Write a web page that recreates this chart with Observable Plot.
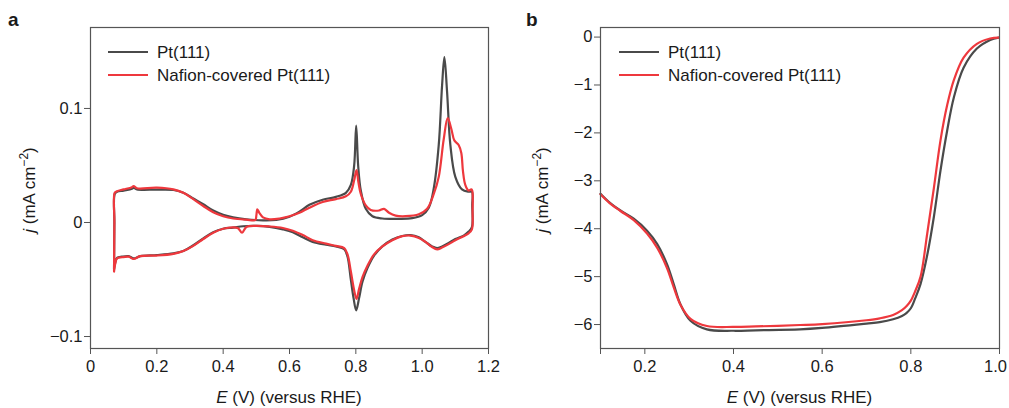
<!DOCTYPE html>
<html>
<head>
<meta charset="utf-8">
<script src="https://cdn.jsdelivr.net/npm/d3@7"></script>
<script src="https://cdn.jsdelivr.net/npm/@observablehq/plot@0.6"></script>
<style>
  html, body { margin: 0; padding: 0; background: #fff; }
  #wrap { position: relative; width: 1009px; height: 408px; overflow: hidden; font-family: "Liberation Sans", Arial, sans-serif; }
  #wrap svg.plot-svg { position: absolute; top: 0; }
  #overlay { position: absolute; left: 0; top: 0; pointer-events: none; }
</style>
</head>
<body>
<div id="wrap"></div>
<script>
// ---------- Panel a: cyclic voltammograms ----------
const aPtE = [0.071,0.072,0.073,0.08,0.10,0.125,0.13,0.14,0.20,0.25,0.28,0.31,0.34,0.37,0.40,0.43,0.47,0.52,0.56,0.60,0.63,0.66,0.70,0.74,0.77,0.785,0.795,0.801,0.807,0.815,0.83,0.85,0.88,0.93,0.97,1.00,1.02,1.035,1.05,1.06,1.067,1.075,1.085,1.10,1.12,1.14,1.15,1.151,1.15,
  1.14,1.125,1.10,1.08,1.06,1.045,1.03,1.01,0.99,0.965,0.94,0.91,0.88,0.855,0.835,0.82,0.81,0.801,0.793,0.784,0.775,0.765,0.74,0.71,0.67,0.64,0.61,0.58,0.54,0.50,0.46,0.43,0.40,0.37,0.34,0.31,0.28,0.25,0.20,0.15,0.13,0.115,0.095,0.08,0.074,0.071];
const aPtJ = [-0.041,0.0,0.025,0.027,0.028,0.0295,0.0305,0.029,0.0288,0.0285,0.026,0.021,0.016,0.0105,0.0068,0.0045,0.0028,0.0018,0.0022,0.005,0.0095,0.0155,0.020,0.0225,0.026,0.033,0.05,0.085,0.05,0.028,0.012,0.0055,0.0035,0.0032,0.0038,0.0065,0.013,0.03,0.068,0.12,0.145,0.115,0.068,0.04,0.029,0.027,0.027,0.015,-0.004,
  -0.008,-0.0115,-0.0145,-0.018,-0.021,-0.0225,-0.021,-0.017,-0.013,-0.011,-0.0118,-0.015,-0.021,-0.029,-0.04,-0.052,-0.066,-0.077,-0.066,-0.048,-0.03,-0.0235,-0.021,-0.0195,-0.017,-0.013,-0.0085,-0.006,-0.0038,-0.003,-0.0033,-0.0045,-0.0055,-0.0085,-0.014,-0.020,-0.025,-0.027,-0.0285,-0.0295,-0.0315,-0.0295,-0.030,-0.031,-0.036,-0.041];
const aNafE = [0.071,0.072,0.073,0.08,0.10,0.125,0.13,0.14,0.20,0.25,0.28,0.31,0.34,0.37,0.40,0.43,0.47,0.497,0.500,0.503,0.51,0.52,0.54,0.57,0.60,0.63,0.66,0.70,0.74,0.77,0.785,0.795,0.802,0.808,0.815,0.83,0.845,0.87,0.885,0.90,0.92,0.95,0.99,1.015,1.035,1.05,1.065,1.077,1.088,1.097,1.11,1.118,1.123,1.13,1.14,1.148,1.151,1.152,1.15,
  1.14,1.125,1.10,1.08,1.06,1.045,1.03,1.01,0.99,0.965,0.94,0.91,0.88,0.855,0.835,0.82,0.81,0.802,0.794,0.785,0.775,0.765,0.74,0.71,0.67,0.64,0.61,0.58,0.54,0.50,0.47,0.457,0.445,0.43,0.40,0.37,0.34,0.31,0.28,0.25,0.20,0.15,0.13,0.115,0.095,0.08,0.074,0.071];
const aNafJ = [-0.043,0.0,0.026,0.0275,0.029,0.031,0.032,0.030,0.0305,0.029,0.026,0.0205,0.0145,0.009,0.0055,0.0035,0.0025,0.0022,0.006,0.0115,0.008,0.0045,0.0028,0.0035,0.0055,0.0085,0.013,0.018,0.0205,0.023,0.027,0.037,0.046,0.035,0.025,0.015,0.011,0.0105,0.012,0.0085,0.006,0.0055,0.0072,0.012,0.025,0.04,0.073,0.0915,0.082,0.072,0.068,0.061,0.045,0.033,0.028,0.029,0.028,0.01,-0.006,
  -0.0095,-0.012,-0.0155,-0.019,-0.022,-0.0235,-0.0215,-0.017,-0.0135,-0.0115,-0.012,-0.0155,-0.021,-0.028,-0.038,-0.048,-0.058,-0.067,-0.058,-0.043,-0.028,-0.0225,-0.0205,-0.0185,-0.0155,-0.011,-0.0072,-0.0048,-0.0035,-0.003,-0.004,-0.009,-0.005,-0.0042,-0.0055,-0.009,-0.0145,-0.0205,-0.025,-0.0275,-0.029,-0.0295,-0.032,-0.030,-0.0305,-0.0315,-0.037,-0.043];
const aXTicks = [0, 0.2, 0.4, 0.6, 0.8, 1.0, 1.2];
const aXTickLabels = ["0", "0.2", "0.4", "0.6", "0.8", "1.0", "1.2"];
const aYTicks = [-0.1, 0, 0.1];
const aYTickLabels = ["\u22120.1", "0", "0.1"];

// ---------- Panel b: polarization curves ----------
const bE = [0.1,0.12,0.145,0.175,0.205,0.228,0.25,0.265,0.28,0.303,0.34,0.40,0.45,0.55,0.6,0.7,0.73,0.76,0.78,0.79,0.8,0.81,0.822,0.837,0.852,0.867,0.882,0.897,0.919,0.949,0.979,0.998];
const bPtJ = [-3.27,-3.45,-3.62,-3.79,-4.04,-4.32,-4.74,-5.15,-5.57,-5.92,-6.10,-6.13,-6.12,-6.10,-6.07,-5.98,-5.95,-5.89,-5.82,-5.76,-5.66,-5.45,-5.15,-4.55,-3.75,-2.78,-1.95,-1.26,-0.64,-0.24,-0.06,-0.01];
const bNafJ = [-3.28,-3.46,-3.63,-3.82,-4.10,-4.40,-4.82,-5.22,-5.58,-5.88,-6.03,-6.05,-6.04,-6.01,-5.99,-5.91,-5.87,-5.80,-5.70,-5.62,-5.50,-5.30,-5.00,-4.10,-3.15,-2.15,-1.42,-0.90,-0.43,-0.14,-0.03,-0.01];
const bXTicks = [0.1, 0.2, 0.4, 0.6, 0.8, 1.0];
const bXTickLabels = ["", "0.2", "0.4", "0.6", "0.8", "1.0"];
const bYTicks = [0, -1, -2, -3, -4, -5, -6];
const bYTickLabels = ["0", "\u22121", "\u22122", "\u22123", "\u22124", "\u22125", "\u22126"];

const seriesNames = ["Pt(111)", "Nafion-covered Pt(111)"];
const colors = ["#4a4a4a", "#ee383d"];

const FONT = '"Liberation Sans", Arial, sans-serif';
const zip = (xs, ys) => xs.map((x, i) => ({E: x, j: ys[i]}));
const fmt = (ticks, labels) => { const m = new Map(ticks.map((t, i) => [t, labels[i]])); return d => m.get(d) ?? ""; };

function panel({width, marginLeft, marginRight, xDomain, yDomain, xTicks, xLabels, yTicks, yLabels, series}) {
  return Plot.plot({
    width, height: 408,
    marginLeft, marginRight, marginTop: 27, marginBottom: 60,
    x: {domain: xDomain},
    y: {domain: yDomain},
    style: {fontFamily: FONT, fontSize: "16.5px", color: "#1a1a1a", background: "transparent", overflow: "visible"},
    marks: [
      Plot.axisX({ticks: xTicks, tickFormat: fmt(xTicks, xLabels), tickSize: 6, tickPadding: 6, label: null, stroke: "#555"}),
      Plot.axisY({ticks: yTicks, tickFormat: fmt(yTicks, yLabels), tickSize: 6, tickPadding: 2, label: null, stroke: "#555"}),
      ...series.map((s, i) => Plot.line(s, {x: "E", y: "j", stroke: colors[i], strokeWidth: 2.2, curve: "catmull-rom"})),
      Plot.frame({stroke: "#555", strokeWidth: 1.2})
    ]
  });
}

const wrap = document.getElementById("wrap");
const pa = panel({width: 500, marginLeft: 90, marginRight: 12, xDomain: [0, 1.2], yDomain: [-0.1105, 0.171],
  xTicks: aXTicks, xLabels: aXTickLabels, yTicks: aYTicks, yLabels: aYTickLabels,
  series: [zip(aPtE, aPtJ), zip(aNafE, aNafJ)]});
pa.classList.add("plot-svg"); pa.style.left = "0px"; pa.style.position = "absolute";
wrap.appendChild(pa);

const pb = panel({width: 509, marginLeft: 100, marginRight: 10, xDomain: [0.1, 1.0], yDomain: [-6.5, 0.2],
  xTicks: bXTicks, xLabels: bXTickLabels, yTicks: bYTicks, yLabels: bYTickLabels,
  series: [zip(bE, bPtJ), zip(bE, bNafJ)]});
pb.classList.add("plot-svg"); pb.style.left = "500px"; pb.style.position = "absolute";
wrap.appendChild(pb);
// keep the last x tick label of panel b inside the page
pb.querySelectorAll("text").forEach(t => { if (t.textContent === "1.0") t.setAttribute("dx", "-4"); });

// ---------- Overlay: panel letters, axis titles, legends ----------
const NS = "http://www.w3.org/2000/svg";
const ov = document.createElementNS(NS, "svg");
ov.setAttribute("id", "overlay");
ov.setAttribute("width", 1009); ov.setAttribute("height", 408);
ov.setAttribute("font-family", FONT);
ov.setAttribute("fill", "#1a1a1a");
wrap.appendChild(ov);

function el(tag, attrs, parent = ov) {
  const e = document.createElementNS(NS, tag);
  for (const k in attrs) e.setAttribute(k, attrs[k]);
  parent.appendChild(e); return e;
}
function tspan(parent, text, attrs = {}) { const t = el("tspan", attrs, parent); t.textContent = text; return t; }

function decorate(offset, letterX, yLabelX, xCenter, legendX) {
  const L = el("text", {x: letterX, y: 26, "font-size": 19, "font-weight": "bold"}); L.textContent = offset === 0 ? "a" : "b";
  const xt = el("text", {x: xCenter, y: 403, "font-size": 17, "text-anchor": "middle"});
  tspan(xt, "E", {"font-style": "italic"}); tspan(xt, " (V) (versus RHE)");
  const yt = el("text", {transform: `translate(${yLabelX},190) rotate(-90)`, "font-size": 17, "text-anchor": "middle"});
  tspan(yt, "j", {"font-style": "italic"}); tspan(yt, " (mA cm"); tspan(yt, "\u22122", {dy: -7, "font-size": 12}); tspan(yt, ")", {dy: 7});
  seriesNames.forEach((name, i) => {
    const y = 52 + i * 23;
    el("line", {x1: legendX, x2: legendX + 40, y1: y, y2: y, stroke: colors[i], "stroke-width": 2.2});
    const t = el("text", {x: legendX + 49, y: y + 6, "font-size": 17}); t.textContent = name;
  });
}
decorate(0, 8, 35, 289, 108);
decorate(1, 526, 548, 799.5, 619);
</script>
</body>
</html>
